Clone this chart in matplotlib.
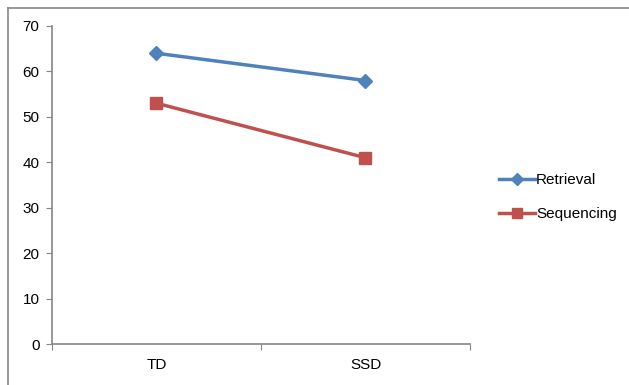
import matplotlib.pyplot as plt
from matplotlib.lines import Line2D

categories = ['TD', 'SSD']
retrieval = [64, 58]
sequencing = [53, 41]

plt.rcParams['font.family'] = ['Liberation Sans', 'DejaVu Sans']

W, H = 629, 385
fig = plt.figure(figsize=(W / 100, H / 100), dpi=100)

# chart area border (top and left edges, running off the image)
fig.add_artist(Line2D([8 / W, 8 / W], [0, 1 - 8 / H], color='#888888', lw=1.2))
fig.add_artist(Line2D([8 / W, 1], [1 - 8 / H, 1 - 8 / H], color='#888888', lw=1.2))

# plot area in pixel coordinates
x0, x1 = 52, 470
y0, y1 = 344, 26
ax = fig.add_axes([x0 / W, 1 - y0 / H, (x1 - x0) / W, (y0 - y1) / H])

x = list(range(len(categories)))
ax.plot(x, retrieval, color='#4F81BD', lw=2.5, marker='D', ms=7, label='Retrieval')
ax.plot(x, sequencing, color='#C0504D', lw=2.5, marker='s', ms=8, label='Sequencing')

ax.set_xlim(-0.5, len(categories) - 0.5)
ax.set_ylim(0, 70)
ax.set_yticks(range(0, 71, 10))
ax.set_xticks([i - 0.5 for i in range(len(categories) + 1)])
ax.set_xticklabels([])
ax.set_xticks(x, minor=True)
ax.set_xticklabels(categories, minor=True)

for s in ['top', 'right']:
    ax.spines[s].set_visible(False)
for s in ['left', 'bottom']:
    ax.spines[s].set_color('#868686')
    ax.spines[s].set_linewidth(1.2)

ax.tick_params(axis='y', which='major', length=4, color='#868686', labelsize=11, pad=5)
ax.tick_params(axis='x', which='major', length=4, color='#868686')
ax.tick_params(axis='x', which='minor', length=0, labelsize=11, pad=10)

ax.legend(loc='center left', bbox_to_anchor=(485 / W, 1 - 197 / H), bbox_transform=fig.transFigure,
          frameon=False, fontsize=11, handlelength=2.4, handletextpad=0.05, labelspacing=1.3,
          markerscale=0.85)

fig.savefig('out.png', dpi=100)
